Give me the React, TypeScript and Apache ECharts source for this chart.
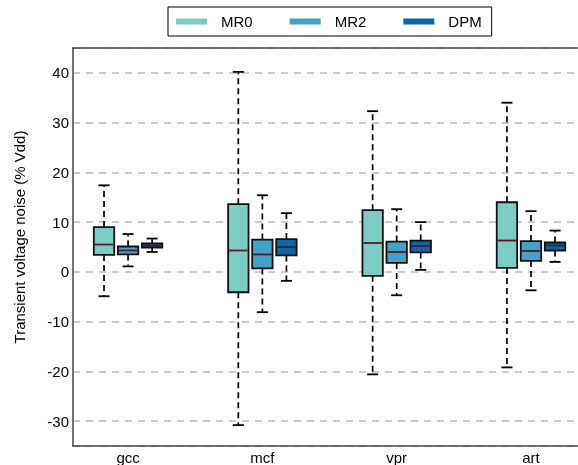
import React, { useEffect, useRef } from "react";
import * as echarts from "echarts";

const categories = ["gcc", "mcf", "vpr", "art"];
const seriesNames = ["MR0", "MR2", "DPM"];
const seriesColors = ["#7bccc4", "#43a2ca", "#0868ac"];
// each entry: [lower whisker, Q1, median, Q3, upper whisker]
const mr0 = [
  [-4.9, 3.4, 5.5, 9.0, 17.4],
  [-30.8, -4.1, 4.3, 13.6, 40.2],
  [-20.6, -0.8, 5.8, 12.4, 32.3],
  [-19.2, 0.8, 6.3, 14.0, 34.0],
];
const mr2 = [
  [1.1, 3.5, 4.3, 5.1, 7.6],
  [-8.1, 0.7, 3.5, 6.5, 15.4],
  [-4.7, 1.8, 4.0, 6.1, 12.6],
  [-3.7, 2.2, 4.2, 6.2, 12.2],
];
const dpm = [
  [4.0, 4.9, 5.3, 5.7, 6.7],
  [-1.8, 3.3, 5.0, 6.6, 11.8],
  [0.4, 3.9, 5.2, 6.3, 10.0],
  [2.0, 4.3, 5.3, 5.9, 8.3],
];
const yTickLabels = ["-30", "-20", "-10", "0", "10", "20", "30", "40"];
const yAxisTitle = "Transient voltage noise (% Vdd)";

const allSeries = [mr0, mr2, dpm];
const offsets = [-0.179, 0, 0.179];
const BOX_W = 0.152;
const CAP_W = 0.082;
const FONT = "'Liberation Sans', Arial, Helvetica, sans-serif";

export default function App() {
  const ref = useRef<HTMLDivElement>(null);
  useEffect(() => {
    if (!ref.current) return;
    const chart = echarts.init(ref.current, null, { renderer: "svg" });

    const renderItem = (params: any, api: any) => {
      const x = api.value(0);
      const vmin = api.value(1);
      const q1 = api.value(2);
      const med = api.value(3);
      const q3 = api.value(4);
      const vmax = api.value(5);
      const off = offsets[params.seriesIndex];
      const cx = api.coord([x + off, 0])[0];
      const yMin = api.coord([x, vmin])[1];
      const yQ1 = api.coord([x, q1])[1];
      const yMed = api.coord([x, med])[1];
      const yQ3 = api.coord([x, q3])[1];
      const yMax = api.coord([x, vmax])[1];
      const bw = api.size([BOX_W, 0])[0];
      const cw = api.size([CAP_W, 0])[0];
      const color = seriesColors[params.seriesIndex];
      const dashStyle = { stroke: "#000", lineWidth: 1.7, lineDash: [6, 4] };
      const solid = { stroke: "#000", lineWidth: 1.8 };
      return {
        type: "group",
        children: [
          { type: "line", shape: { x1: cx, y1: yQ3, x2: cx, y2: yMax }, style: dashStyle },
          { type: "line", shape: { x1: cx, y1: yQ1, x2: cx, y2: yMin }, style: dashStyle },
          { type: "line", shape: { x1: cx - cw / 2, y1: yMax, x2: cx + cw / 2, y2: yMax }, style: solid },
          { type: "line", shape: { x1: cx - cw / 2, y1: yMin, x2: cx + cw / 2, y2: yMin }, style: solid },
          {
            type: "rect",
            shape: { x: cx - bw / 2, y: yQ3, width: bw, height: yQ1 - yQ3 },
            style: { fill: color, stroke: "#111", lineWidth: 1.8 },
          },
          {
            type: "line",
            shape: { x1: cx - bw / 2 + 1, y1: yMed, x2: cx + bw / 2 - 1, y2: yMed },
            style: { stroke: "#5c1818", lineWidth: 1.8 },
          },
        ],
      };
    };

    const series = seriesNames.map((name, si) => ({
      name,
      type: "custom",
      renderItem,
      itemStyle: { color: seriesColors[si] },
      encode: { x: 0, y: [1, 2, 3, 4, 5] },
      data: allSeries[si].map((d, ci) => [ci + 1, ...d]),
      clip: false,
    }));

    chart.setOption({
      animation: false,
      textStyle: { fontFamily: FONT },
      legend: {
        data: seriesNames,
        left: 168,
        top: 7,
        icon: "rect",
        itemWidth: 31,
        itemHeight: 6,
        itemGap: 37,
        padding: [7, 10, 7, 8],
        borderColor: "#000",
        borderWidth: 1,
        itemStyle: { borderWidth: 0 },
        textStyle: { fontFamily: FONT, fontSize: 15, color: "#000", padding: [0, 0, 0, 9] },
        selectedMode: false,
      },
      grid: { left: 73, top: 48, right: 0, height: 398, containLabel: false, outerBoundsMode: "none" },
      xAxis: [
        {
          type: "value",
          min: 0.59,
          max: 4.35,
          axisLine: { show: true, onZero: false, lineStyle: { color: "#444", width: 1.5 } },
          axisTick: { show: false },
          splitLine: { show: false },
          axisLabel: {
            customValues: [1, 2, 3, 4],
            formatter: (v: number) => categories[Math.round(v) - 1] ?? "",
            fontFamily: FONT,
            fontSize: 15,
            color: "#000",
            margin: 4,
          },
        },
        {
          type: "value",
          position: "top",
          min: 0.59,
          max: 4.35,
          axisLine: { show: true, onZero: false, lineStyle: { color: "#444", width: 1.5 } },
          axisTick: { show: false },
          splitLine: { show: false },
          axisLabel: { show: false },
        },
      ],
      yAxis: {
        type: "value",
        min: -35,
        max: 45,
        splitNumber: 8,
        axisLine: { show: true, onZero: false, lineStyle: { color: "#444", width: 1.5 } },
        axisTick: { show: false },
        splitLine: { show: true, lineStyle: { color: "#cccccc", width: 2, type: [7, 6] } },
        axisLabel: {
          showMinLabel: false,
          showMaxLabel: false,
          formatter: (v: number) => (yTickLabels.includes(String(v)) ? String(v) : ""),
          fontFamily: FONT,
          fontSize: 15,
          color: "#000",
          margin: 4,
        },
      },
      graphic: [
        {
          type: "text",
          x: 19,
          y: 237,
          rotation: Math.PI / 2,
          style: {
            text: yAxisTitle,
            fontFamily: FONT,
            fontSize: 15,
            fill: "#000",
            align: "center",
            verticalAlign: "middle",
          },
        },
      ],
      series,
    });
    return () => chart.dispose();
  }, []);
  return (
    <div
      ref={ref}
      style={{ position: "fixed", left: 0, top: 0, width: 578, height: 465 }}
    />
  );
}
